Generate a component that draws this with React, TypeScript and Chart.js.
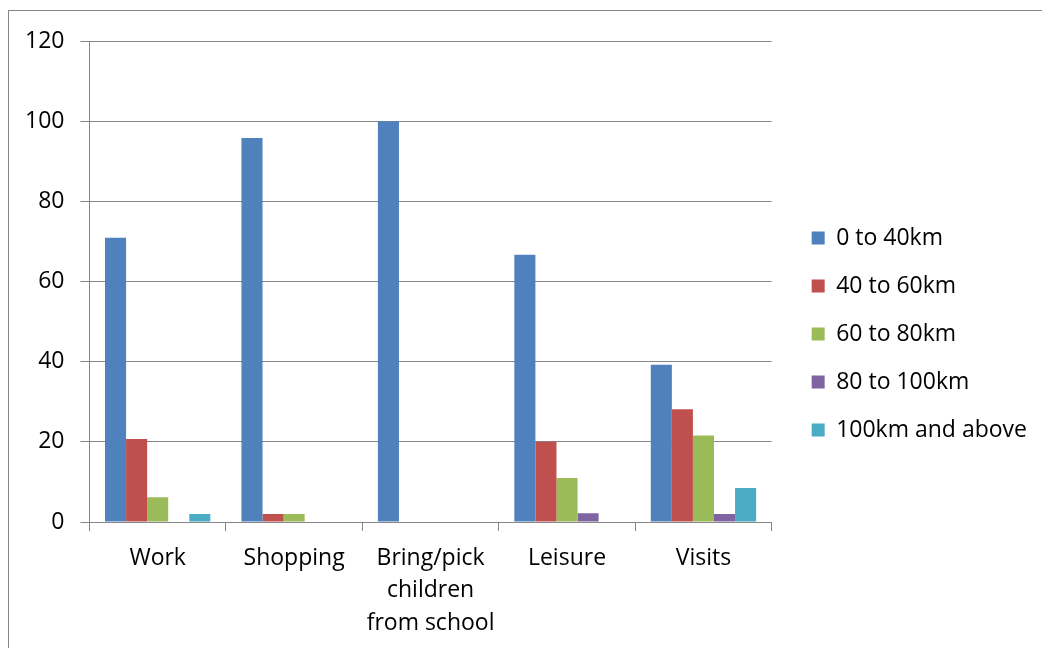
import React, { useEffect, useRef } from "react";
import { Chart, registerables } from "chart.js";

Chart.register(...registerables);

const categories: (string | string[])[] = [
  "Work",
  "Shopping",
  ["Bring/pick", "children", "from school"],
  "Leisure",
  "Visits",
];
const seriesNames = ["0 to 40km", "40 to 60km", "60 to 80km", "80 to 100km", "100km and above"];
const s0to40 = [70.9, 95.8, 100, 66.7, 39.2];
const s40to60 = [20.7, 2, 0, 20, 28.1];
const s60to80 = [6.2, 2, 0, 11, 21.6];
const s80to100 = [0, 0, 0, 2.2, 2];
const s100plus = [2, 0, 0, 0, 8.5];
const seriesColors = ["#4F81BD", "#C0504D", "#9BBB59", "#8064A2", "#4BACC6"];
const yMin = 0;
const yMax = 120;
const yStep = 20;

const legendShift = {
  id: "legendShift",
  afterLayout(chart: any) {
    const lg = chart.legend;
    if (!lg) return;
    lg.left += 15;
    lg.right += 15;
    lg.top -= 8;
    lg.bottom -= 8;
  },
};

export default function App() {
  const ref = useRef<HTMLCanvasElement | null>(null);
  useEffect(() => {
    if (!ref.current) return;
    const values = [s0to40, s40to60, s60to80, s80to100, s100plus];
    const font = { family: "'Open Sans', sans-serif", size: 23, lineHeight: 1.41 };
    const yFont = { family: "'Open Sans', sans-serif", size: 23, lineHeight: 1.0 };
    const chart = new Chart(ref.current, {
      type: "bar",
      data: {
        labels: categories,
        datasets: seriesNames.map((n, i) => ({
          label: n,
          data: values[i],
          backgroundColor: seriesColors[i],
          borderWidth: 0,
          categoryPercentage: 0.772,
          barPercentage: 1,
        })),
      },
      plugins: [legendShift],
      options: {
        animation: false,
        responsive: false,
        maintainAspectRatio: false,
        layout: { padding: { top: 30, left: 0, right: 20, bottom: 0 } },
        plugins: {
          tooltip: { enabled: false },
          legend: {
            position: "right",
            labels: {
              boxWidth: 13,
              boxHeight: 13,
              padding: 25,
              color: "#000",
              font,
            },
          },
        },
        scales: {
          x: {
            grid: {
              offset: true,
              drawOnChartArea: false,
              drawTicks: true,
              tickLength: 9,
              color: "#868686",
              lineWidth: 1,
            },
            border: { color: "#868686", width: 1 },
            ticks: { color: "#000", font, padding: 11, maxRotation: 0, autoSkip: false },
            afterFit: (s: any) => {
              s.height = 121;
            },
          },
          y: {
            min: yMin,
            max: yMax,
            ticks: { stepSize: yStep, color: "#000", font: yFont, padding: 16 },
            grid: { color: "#868686", lineWidth: 1, tickLength: 9 },
            border: { color: "#868686", width: 1 },
            afterFit: (s: any) => {
              s.paddingTop = 0;
              s.paddingBottom = 0;
            },
          },
        },
      },
    });
    return () => chart.destroy();
  }, []);
  return (
    <div
      style={{
        position: "fixed",
        left: 8,
        top: 10,
        width: 1060,
        height: 680,
        border: "1px solid #868686",
        background: "#fff",
      }}
    >
      <canvas ref={ref} width={1033} height={632} style={{ display: "block" }} />
    </div>
  );
}
